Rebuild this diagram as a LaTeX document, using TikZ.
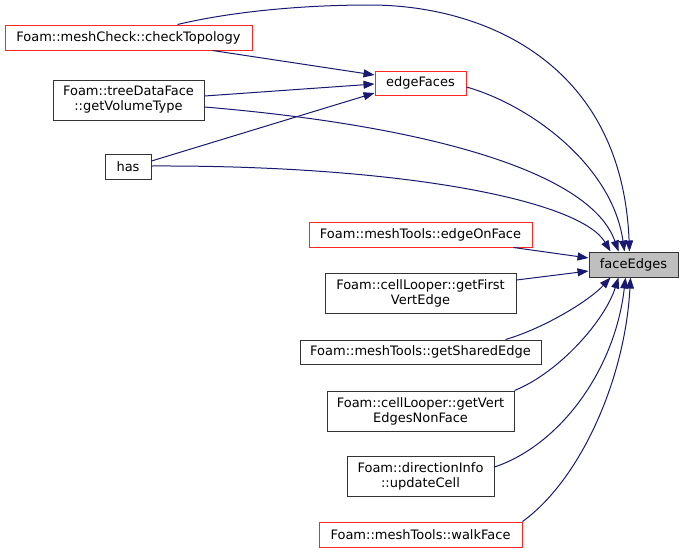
\documentclass[tikz,border=0pt]{standalone}
\usepackage{fontspec}
\setmainfont{DejaVu Sans}
\usetikzlibrary{arrows.meta,calc}
\definecolor{edgeblue}{HTML}{191970}
\begin{document}
\begin{tikzpicture}[x=1pt,y=-1pt,
  box/.style={draw=black!80,line width=1pt,rectangle,inner sep=0pt,align=center,
    font=\fontsize{13}{15}\selectfont},
  redbox/.style={box,draw=red!85},
  graybox/.style={box,fill=black!25},
  link/.style={draw=edgeblue,line width=1pt,-{Triangle[length=11pt,width=8pt]}}]
\useasboundingbox (0,0) rectangle (684,554);
\node[redbox,minimum width=247pt,minimum height=25pt] (ct) at (128.5,37.5) {Foam::meshCheck::checkTopology};
\node[box,minimum width=151pt,minimum height=40pt] (td) at (128.5,100) {Foam::treeDataFace\\::getVolumeType};
\node[box,minimum width=46pt,minimum height=25pt] (has) at (128,166.5) {has};
\node[redbox,minimum width=91pt,minimum height=24pt] (ef) at (420.5,83) {edgeFaces};
\node[graybox,minimum width=89pt,minimum height=25pt] (fe) at (633.5,264.5) {faceEdges};
\node[redbox,minimum width=223pt,minimum height=25pt] (eo) at (420.5,234.5) {Foam::meshTools::edgeOnFace};
\node[box,minimum width=191pt,minimum height=40pt] (gf) at (420.5,293) {Foam::cellLooper::getFirst\\VertEdge};
\node[box,minimum width=241pt,minimum height=24pt] (gs) at (420.5,352) {Foam::meshTools::getSharedEdge};
\node[box,minimum width=187pt,minimum height=40pt] (gv) at (420.5,411) {Foam::cellLooper::getVert\\EdgesNonFace};
\node[box,minimum width=147pt,minimum height=40pt] (di) at (420.5,476) {Foam::directionInfo\\::updateCell};
\node[redbox,minimum width=203pt,minimum height=25pt] (wf) at (420.5,534.5) {Foam::meshTools::walkFace};
% edges into edgeFaces
\draw[link] ($(ct.south east)+(-40,0)$) -- ($(ef.west)+(0,-8)$);
\draw[link] ($(td.east)+(0,-4)$) -- ($(ef.west)+(0,1)$);
\draw[link] ($(has.east)+(0,-5.5)$) -- ($(ef.west)+(0,10)$);
% edges into faceEdges from top
\draw[link] ($(ct.north west)+(173,0)$) .. controls (230,12) and (300,5) .. (370,5)
   .. controls (480,5) and (622,60) .. ($(fe.north west)+(41,0)$);
\draw[link] ($(ef.east)+(0,4)$) .. controls (530,105) and (612,165) .. ($(fe.north west)+(36,0)$);
\draw[link] ($(td.east)+(0,7)$) .. controls (420,125) and (590,170) .. ($(fe.north west)+(30,0)$);
\draw[link] ($(has.east)+(0,-0.5)$) .. controls (400,165) and (580,200) .. ($(fe.north west)+(22,0)$);
% left side
\draw[link] ($(eo.south east)+(-19,0)$) -- ($(fe.west)+(0,-6.5)$);
\draw[link] ($(gf.east)+(0,-13)$) -- ($(fe.west)+(0,6.5)$);
% bottom
\draw[link] ($(gs.north east)+(-36,0)$) .. controls (545,328) and (590,300) .. ($(fe.south west)+(22,0)$);
\draw[link] (gv.north east) .. controls (560,372) and (605,320) .. ($(fe.south west)+(30,0)$);
\draw[link] ($(di.east)+(0,-9)$) .. controls (560,445) and (615,370) .. ($(fe.south west)+(37,0)$);
\draw[link] (wf.north east) .. controls (580,480) and (625,380) .. ($(fe.south west)+(42,0)$);
\end{tikzpicture}
\end{document}
